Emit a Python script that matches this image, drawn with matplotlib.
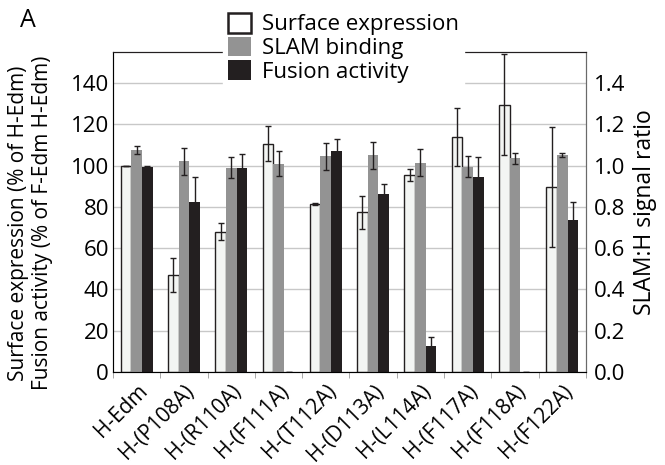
import numpy as np
import matplotlib.pyplot as plt
from matplotlib.patches import Patch

plt.rcParams['font.family'] = ['Open Sans', 'DejaVu Sans']

# data
labels = ['H-Edm', 'H-(P108A)', 'H-(R110A)', 'H-(F111A)', 'H-(T112A)',
          'H-(D113A)', 'H-(L114A)', 'H-(F117A)', 'H-(F118A)', 'H-(F122A)']
surface = [100, 47, 68, 110.5, 81.5, 77.5, 95.5, 114, 129.5, 89.5]
surface_err = [0, 8, 4, 8.5, 0.5, 8, 3, 14, 24.5, 29]
slam = [107.5, 102, 99, 101, 104.5, 105, 101.5, 99.5, 103.5, 105]
slam_err = [2, 6.5, 5, 6, 6.5, 6.5, 6.5, 5, 2.5, 1]
fusion = [99.5, 82.5, 99, 0, 107, 86, 12.5, 94.5, 0, 73.5]
fusion_err = [0.5, 12, 6.5, 0, 6, 5, 4.5, 9.5, 0, 9]

fig = plt.figure(figsize=(6.65, 4.65), dpi=100)
ax = fig.add_axes([0.170, 0.200, 0.711, 0.688])

x = np.arange(len(labels))
w = 0.226
ekw = dict(ecolor='#231f20', elinewidth=1.0, capsize=2, capthick=1.0)
ax.bar(x - w, surface, w, yerr=surface_err, color='#f3f5f3', edgecolor='#231f20',
       linewidth=1.0, error_kw=ekw, zorder=3)
ax.bar(x, slam, w, yerr=slam_err, color='#939393', linewidth=0, error_kw=ekw, zorder=3)
ax.bar(x + w, fusion, w, yerr=fusion_err, color='#231f20', linewidth=0, error_kw=ekw, zorder=3)

ax.set_xlim(-0.5, len(labels) - 0.5)
ax.set_ylim(0, 155)
ax.set_yticks(np.arange(0, 141, 20))
ax.tick_params(axis='y', length=0, labelsize=16, pad=3)
ax.yaxis.grid(True, color='#c8c8c8', linewidth=1.0, zorder=0)
ax.set_axisbelow(True)

ax.set_xticks(x)
ax.set_xticklabels(labels, rotation=45, ha='right', rotation_mode='anchor', fontsize=15)
ax.tick_params(axis='x', which='major', length=0, pad=6)
ax.set_xticks(np.arange(-0.5, len(labels)), minor=True)
ax.tick_params(axis='x', which='minor', length=4, color='#9a9a9a')

for s in ['left', 'right', 'bottom']:
    ax.spines[s].set_color('#6a6a6a')
ax.spines['top'].set_color('#231f20')

ax2 = ax.twinx()
ax2.set_ylim(0, 1.55)
ax2.set_yticks(np.arange(0, 1.41, 0.2))
ax2.set_yticklabels([f'{v:.1f}' for v in np.arange(0, 1.41, 0.2)])
ax2.tick_params(axis='y', length=0, labelsize=16, pad=6)
ax2.spines['right'].set_color('#6a6a6a')
ax2.spines['top'].set_color('#231f20')
ax2.set_ylabel('SLAM:H signal ratio', fontsize=16.5, rotation=90, labelpad=5)

fig.text(0.028, 0.52, 'Surface expression (% of H-Edm)', rotation=90,
         ha='center', va='center', fontsize=15)
fig.text(0.064, 0.52, 'Fusion activity (% of F-Edm H-Edm)', rotation=90,
         ha='center', va='center', fontsize=15)
fig.text(0.042, 0.955, 'A', fontsize=18, ha='center', va='center')

handles = [Patch(facecolor='white', edgecolor='#231f20', linewidth=1.8),
           Patch(facecolor='#939393', edgecolor='none'),
           Patch(facecolor='#231f20', edgecolor='none')]
leg = ax2.legend(handles, ['Surface expression', 'SLAM binding', 'Fusion activity'],
                 loc='upper left', bbox_to_anchor=(0.232, 1.14), fontsize=16,
                 frameon=True, framealpha=1, edgecolor='white', fancybox=False,
                 handlelength=1.0, handleheight=1.0, handletextpad=0.5,
                 labelspacing=0.05, borderpad=0.25, borderaxespad=0)
leg.set_zorder(10)

fig.savefig('out.png', dpi=100)
